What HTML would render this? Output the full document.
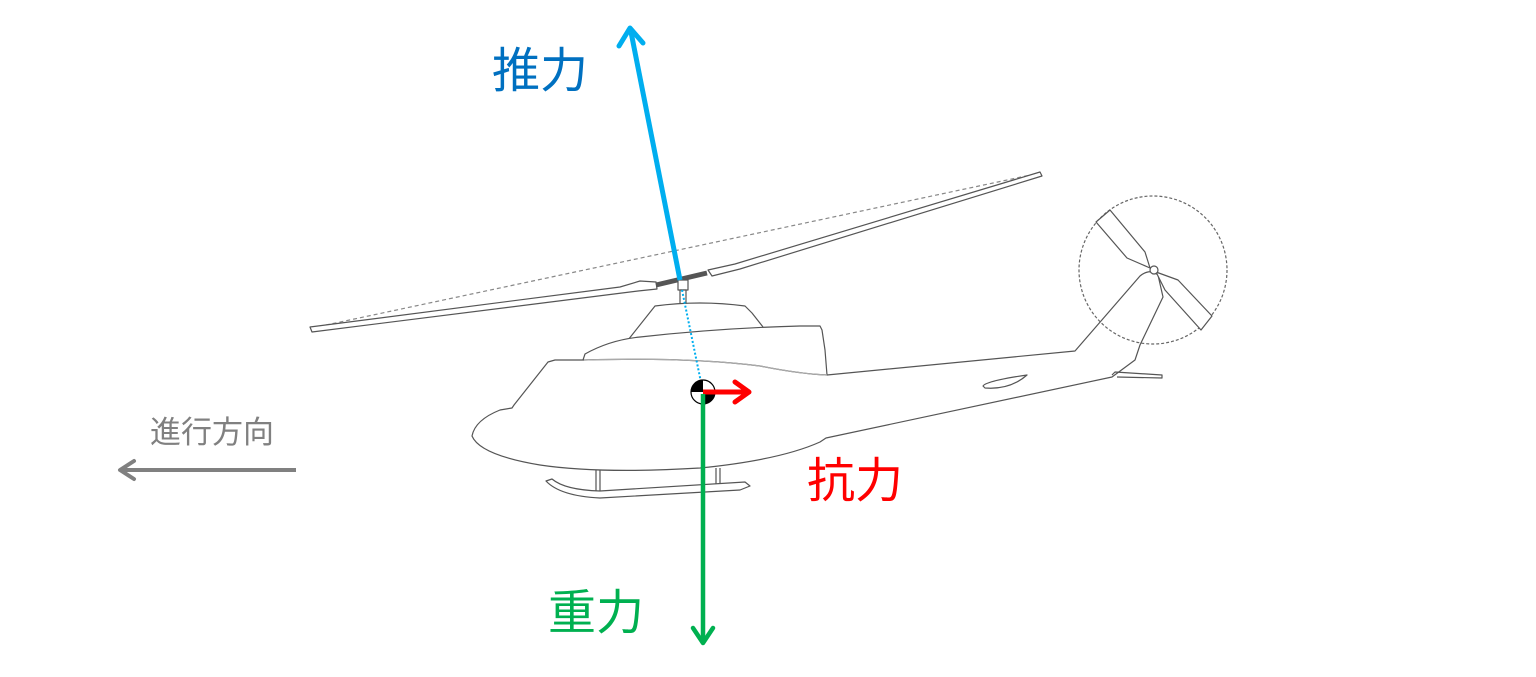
<!DOCTYPE html>
<html><head><meta charset="utf-8"><style>
html,body{margin:0;padding:0;background:#fff;}
svg{display:block}
text{font-family:"Liberation Sans","Noto Sans CJK JP",sans-serif;}
</style></head><body>
<svg width="1536" height="677" viewBox="0 0 1536 677" xmlns="http://www.w3.org/2000/svg">
<g fill="none" stroke="#555" stroke-width="1.2" stroke-linejoin="round">
<line x1="312" y1="328" x2="1040" y2="173" stroke="#888" stroke-dasharray="4,3"/>
<path d="M310 327 L620 287 L640 281 L656 282 L657 289 L638 291 L622 293 L312 332 Z" fill="#fff"/>
<path d="M708 270 L735 264 L1040 172 L1042 176 L740 269 L712 276 Z" fill="#fff"/>
<line x1="656" y1="285" x2="707" y2="273" stroke="#555" stroke-width="5"/>
<rect x="678" y="280" width="10" height="10" fill="#fff"/>
<rect x="680" y="290" width="6" height="16" fill="#fff"/>
<path d="M628 340 L655 306 Q700 300 745 306 L752 313 L763 327" fill="#fff"/>
<path d="M583 360 L585 354 Q610 340 640 337 Q720 328 800 326 L820 326 L822 330 L825 350 L827 375" fill="#fff"/>
<path d="M555 360 L584 360 Q690 357 760 366 Q800 374 827 375 L1075 351 L1140 276 Q1150 268 1158 275 L1163 297 L1140 345 L1135 360 L1112 377 L826 438 L820 442 Q780 460 700 468 Q600 474 540 465 Q480 455 472 436 Q475 420 500 410 L512 408 L514 405 L548 362 Z" fill="#fff"/>
<path d="M584 360 Q690 357 760 366 Q800 374 827 375" stroke="#aaa"/>
<path d="M983 386 Q986 381 1027 375 Q1010 390 985 388 Z"/>
<path d="M1112 375 L1115 372 L1162 375 L1162 378 L1117 377"/>
<path d="M596 470 L596 492 M600 470 L600 492 M716 468 L716 488 M720 468 L720 488"/>
<path d="M546 481 L552 479 Q565 490 600 491 L745 482 L750 486 L740 490 L600 498 Q560 496 546 481 Z" fill="#fff"/>
<circle cx="1153" cy="270" r="74" stroke="#666" stroke-dasharray="3,2"/>
<path d="M1150 268 L1145 252 L1110 210 L1096 222 L1127 258 Z" fill="#fff"/>
<path d="M1156 272 L1178 280 L1212 316 L1201 330 L1165 290 Z" fill="#fff"/>
<circle cx="1154" cy="270" r="4" fill="#fff"/>
</g>
<line x1="682" y1="290" x2="703" y2="392" stroke="#00aeef" stroke-width="2" stroke-dasharray="2,2"/>
<line x1="680" y1="280" x2="631" y2="32" stroke="#00aeef" stroke-width="5"/>
<polyline points="619,46 630,28 643,43" fill="none" stroke="#00aeef" stroke-width="5" stroke-linecap="round" stroke-linejoin="round"/>
<circle cx="703" cy="392" r="12" fill="#fff" stroke="#000" stroke-width="1.2"/>
<path d="M703 392 L703 380 A12 12 0 0 0 691 392 Z" fill="#000"/>
<path d="M703 392 L703 404 A12 12 0 0 0 715 392 Z" fill="#000"/>
<line x1="703" y1="392" x2="748" y2="392" stroke="#ff0000" stroke-width="5"/>
<polyline points="735,382 749,392 735,402" fill="none" stroke="#ff0000" stroke-width="5" stroke-linecap="round" stroke-linejoin="round"/>
<line x1="703" y1="394" x2="703" y2="643" stroke="#00b050" stroke-width="4.5"/>
<polyline points="693,628 703,643 713,628" fill="none" stroke="#00b050" stroke-width="4.5" stroke-linecap="round" stroke-linejoin="round"/>
<line x1="296" y1="470" x2="122" y2="470" stroke="#808080" stroke-width="4"/>
<polyline points="134,461 120,470 134,479" fill="none" stroke="#808080" stroke-width="4" stroke-linecap="round" stroke-linejoin="round"/>
<text x="492" y="87" font-size="48" fill="#0070c0">推力</text>
<text x="807" y="497" font-size="48" fill="#ff0000">抗力</text>
<text x="548" y="629" font-size="48" fill="#00b050">重力</text>
<text x="150" y="443" font-size="31" fill="#808080">進行方向</text>
</svg>
</body></html>
